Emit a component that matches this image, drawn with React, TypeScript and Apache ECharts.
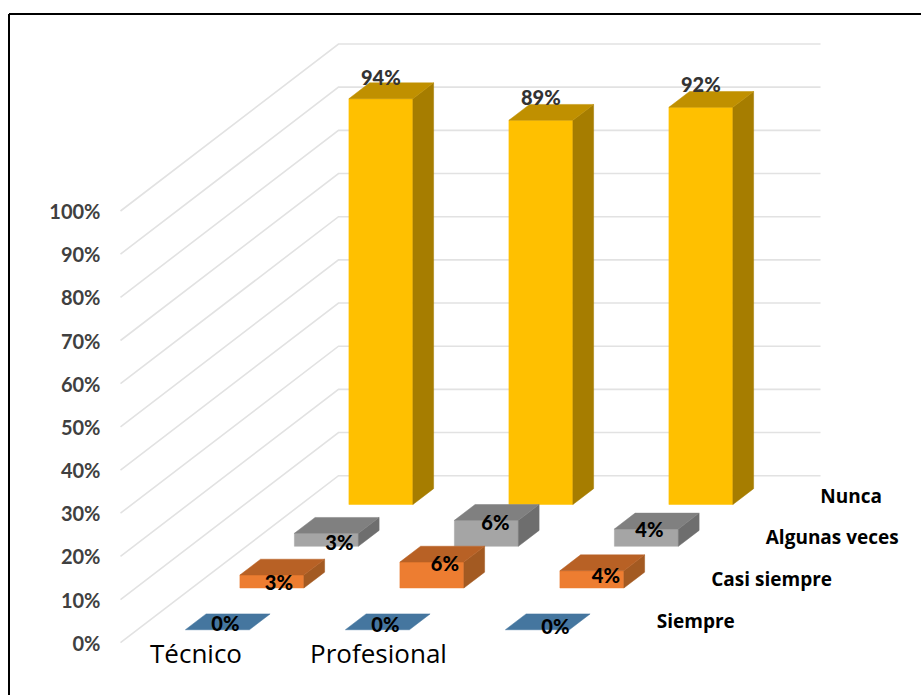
import React, { useEffect, useRef } from "react";
import * as echarts from "echarts";

const categories = ["Técnico", "Profesional", ""];
const rowNames = ["Siempre", "Casi siempre", "Algunas veces", "Nunca"];
const siempre = [0, 0, 0];
const casiSiempre = [3, 6, 4];
const algunasVeces = [3, 6, 4];
const nunca = [94, 89, 92];
const gridTicks = [0, 10, 20, 30, 40, 50, 60, 70, 80, 90, 100];

// Oblique projection: how far the floor recedes on screen, front edge to back wall.
const DEPTH_X = 218;
const DEPTH_Y = -167;
const WALL_EXTRA_X = 2;
const ROW_COUNT = rowNames.length;
const BAR_HALF = 0.2;
const DEPTH_START = 0.31;
const DEPTH_END = 0.69;

// Face colours per row: front, top, side.
const rowFaces = [
  { front: "#4A7EBB", top: "#45769F", side: "#3A648A" },
  { front: "#ED7D31", top: "#B86125", side: "#A35A22" },
  { front: "#A5A5A5", top: "#808080", side: "#6E6E6E" },
  { front: "#FFC000", top: "#C09000", side: "#A67D00" },
];

// Hand-placed value labels, relative to the centre of each bar's front top edge.
const labelNudge = [
  [[8, -7], [8, -6], [18, -4]],
  [[7, 7], [13, 1], [14, 4]],
  [[13, 9], [9, 2], [3, 0]],
  [[0, -22], [0, -23], [0, -23]],
];

const FONT = "Lato, 'Noto Sans', sans-serif";
const WIDE_FONT = "'Open Sans', 'Noto Sans', sans-serif";

function shift(p: number[], depth: number) {
  return [p[0] + DEPTH_X * depth, p[1] + DEPTH_Y * depth];
}

function cuboid(row: number) {
  return (_params: any, api: any) => {
    const cat = api.value(0);
    const value = api.value(1);
    const band = api.size([1, 0])[0];
    const d0 = (row + DEPTH_START) / ROW_COUNT;
    const d1 = (row + DEPTH_END) / ROW_COUNT;
    const base = api.coord([cat, 0]);
    const top = api.coord([cat, value]);
    const half = band * BAR_HALF;
    const left = base[0] - half;
    const right = base[0] + half;

    const fbl = shift([left, base[1]], d0);
    const fbr = shift([right, base[1]], d0);
    const ftl = shift([left, top[1]], d0);
    const ftr = shift([right, top[1]], d0);
    const btl = shift([left, top[1]], d1);
    const btr = shift([right, top[1]], d1);
    const bbr = shift([right, base[1]], d1);
    const faces = rowFaces[row];
    const nudge = labelNudge[row][cat];
    const centre = (ftl[0] + ftr[0]) / 2;

    const poly = (points: number[][], fill: string) => ({
      type: "polygon",
      shape: { points },
      style: { fill, stroke: fill, lineWidth: 0.5 },
    });

    const children: any[] = [];
    if (value > 0) {
      children.push(poly([fbl, fbr, ftr, ftl], faces.front));
      children.push(poly([fbr, bbr, btr, ftr], faces.side));
    }
    children.push(poly([ftl, ftr, btr, btl], faces.top));
    children.push({
      type: "text",
      style: {
        x: centre + nudge[0],
        y: ftl[1] + nudge[1],
        text: `${value}%`,
        align: "center",
        verticalAlign: "middle",
        fontFamily: FONT,
        fontWeight: 900,
        fontSize: 20,
        fill: row === 3 ? "#333333" : "#000000",
      },
    });
    return { type: "group", children };
  };
}

function wallLine(_params: any, api: any) {
  const tick = api.value(0);
  const front = api.coord([0, tick]);
  const band = api.size([1, 0])[0];
  const x0 = front[0] - band / 2;
  const a = [x0, front[1]];
  const b = shift(a, 1);
  const c = [b[0] + band * categories.length + WALL_EXTRA_X, b[1]];
  return {
    type: "polyline",
    shape: { points: [a, b, c] },
    style: { fill: "none", stroke: "#E2E2E2", lineWidth: 1.6 },
  };
}

function rowLabel(_params: any, api: any) {
  const row = api.value(0);
  const base = api.coord([categories.length - 1, 0]);
  const band = api.size([1, 0])[0];
  const depth = (row + 0.5) / ROW_COUNT;
  const p = shift([base[0] + band / 2, base[1]], depth);
  return {
    type: "text",
    style: {
      x: p[0] + 29,
      y: p[1] - 1,
      text: rowNames[row],
      align: "left",
      verticalAlign: "middle",
      fontFamily: WIDE_FONT,
      fontWeight: "bold",
      fontSize: 19,
      fill: "#000000",
    },
  };
}

const rowValues = [siempre, casiSiempre, algunasVeces, nunca];

export default function App() {
  const ref = useRef<HTMLDivElement>(null);
  useEffect(() => {
    document.body.style.margin = "0";
    const chart = echarts.init(ref.current!, null, { renderer: "svg" });
    const rowSeries = rowValues
      .map((values, row) => ({
        type: "custom",
        name: rowNames[row],
        coordinateSystem: "cartesian2d",
        renderItem: cuboid(row),
        data: values.map((v, i) => [i, v]),
        z: 3 + (ROW_COUNT - row),
        encode: { x: 0, y: 1 },
        clip: false,
      }))
      .reverse();
    chart.setOption({
      animation: false,
      backgroundColor: "#FFFFFF",
      grid: { left: 120.5, top: 211, width: 480, height: 431.7 },
      xAxis: {
        type: "category",
        data: [
          { value: categories[0], textStyle: { padding: [0, 9, 0, 0] } },
          { value: categories[1], textStyle: { padding: [0, 0, 0, 36] } },
          categories[2],
        ],
        axisLine: { show: false },
        axisTick: { show: false },
        splitLine: { show: false },
        axisLabel: {
          interval: 0,
          margin: 0,
          lineHeight: 20,
          fontFamily: WIDE_FONT,
          fontWeight: 500,
          fontSize: 26,
          color: "#000000",
        },
      },
      yAxis: {
        type: "value",
        min: 0,
        max: 100,
        interval: 10,
        axisLine: { show: false },
        axisTick: { show: false },
        splitLine: { show: false },
        axisLabel: {
          margin: 20,
          formatter: "{value}%",
          fontFamily: FONT,
          fontWeight: "bold",
          fontSize: 20,
          color: "#404040",
        },
      },
      series: [
        {
          type: "custom",
          name: "wall",
          coordinateSystem: "cartesian2d",
          renderItem: wallLine,
          data: gridTicks.map((t) => [t]),
          encode: { y: 0 },
          z: 1,
          clip: false,
        },
        ...rowSeries,
        {
          type: "custom",
          name: "rowNames",
          coordinateSystem: "cartesian2d",
          renderItem: rowLabel,
          data: rowNames.map((_, i) => [i]),
          z: 10,
          clip: false,
        },
      ],
      graphic: [
        { type: "line", shape: { x1: 9, y1: 14, x2: 921, y2: 14 }, style: { stroke: "#000", lineWidth: 2 } },
        { type: "line", shape: { x1: 9, y1: 14, x2: 9, y2: 695 }, style: { stroke: "#000", lineWidth: 2 } },
      ],
    });
    return () => chart.dispose();
  }, []);
  return <div ref={ref} style={{ width: 921, height: 695 }} />;
}
